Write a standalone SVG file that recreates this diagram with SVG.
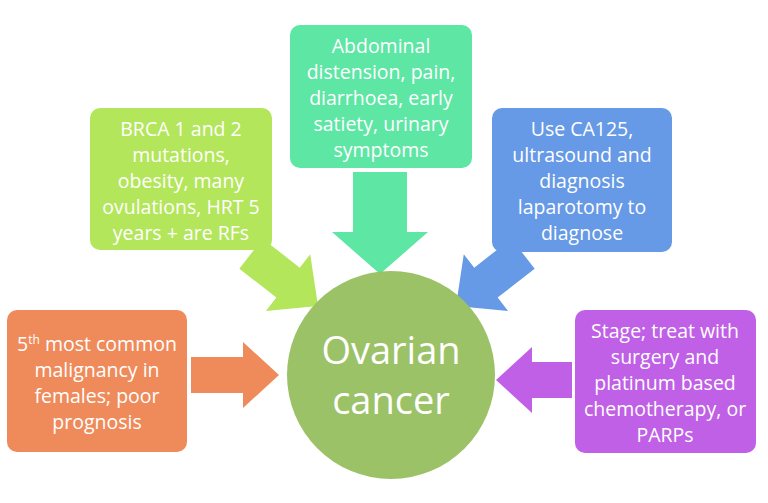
<svg xmlns="http://www.w3.org/2000/svg" width="768" height="503" viewBox="0 0 768 503">
<style>
.t{font-family:"Open Sans","Liberation Sans",sans-serif;font-size:19.5px;fill:#fff;text-anchor:middle}
.c{font-family:"Open Sans","Liberation Sans",sans-serif;font-size:38px;fill:#fff;text-anchor:middle}
</style>
<rect width="768" height="503" fill="#fff"/>
<g id="connectors">
<path transform="translate(279,375)" d="M-88,-18 L-36,-18 L-36,-33 L0,0 L-36,33 L-36,18 L-88,18 Z" fill="#EF8A5A"/>
<path transform="translate(496,380) rotate(180)" d="M-76,-18 L-36,-18 L-36,-33 L0,0 L-36,33 L-36,18 L-76,18 Z" fill="#C060E6"/>
<path transform="translate(380,274) rotate(90)" d="M-102,-27 L-42,-27 L-42,-48 L0,0 L-42,48 L-42,27 L-102,27 Z" fill="#5EE6A4"/>
<path transform="translate(318,306) rotate(38)" d="M-85,-19 L-38,-19 L-38,-36 L0,0 L-38,36 L-38,19 L-85,19 Z" fill="#B3E65A"/>
<path transform="translate(456,306) rotate(142)" d="M-85,-19 L-38,-19 L-38,-36 L0,0 L-38,36 L-38,19 L-85,19 Z" fill="#6699E6"/>
</g>
<g id="center"><circle cx="391" cy="375" r="104" fill="#9BC267"/>
<text class="c" x="391" y="364">Ovarian</text><text class="c" x="391" y="414">cancer</text></g>
<g id="n1"><rect x="7" y="310" width="180" height="142" rx="10" fill="#EF8A5A"/>
<text class="t" x="97" y="351">5<tspan font-size="12" dy="-7">th</tspan><tspan dy="7"> most common</tspan></text>
<text class="t" x="97" y="377">malignancy in</text><text class="t" x="97" y="403">females; poor</text><text class="t" x="97" y="429">prognosis</text></g>
<g id="n2"><rect x="90" y="108" width="182" height="142" rx="10" fill="#B3E65A"/>
<text class="t" x="181" y="136">BRCA 1 and 2</text><text class="t" x="181" y="162">mutations,</text><text class="t" x="181" y="188">obesity, many</text><text class="t" x="181" y="214">ovulations, HRT 5</text><text class="t" x="181" y="240">years + are RFs</text></g>
<g id="n3"><rect x="290" y="25" width="182" height="143" rx="10" fill="#5EE6A4"/>
<text class="t" x="381" y="53">Abdominal</text><text class="t" x="381" y="79">distension, pain,</text><text class="t" x="381" y="105">diarrhoea, early</text><text class="t" x="381" y="131">satiety, urinary</text><text class="t" x="381" y="157">symptoms</text></g>
<g id="n4"><rect x="492" y="108" width="180" height="144" rx="10" fill="#6699E6"/>
<text class="t" x="582" y="136">Use CA125,</text><text class="t" x="582" y="162">ultrasound and</text><text class="t" x="582" y="188">diagnosis</text><text class="t" x="582" y="214">laparotomy to</text><text class="t" x="582" y="240">diagnose</text></g>
<g id="n5"><rect x="575" y="310" width="181" height="143" rx="10" fill="#C060E6"/>
<text class="t" x="665" y="338">Stage; treat with</text><text class="t" x="665" y="364">surgery and</text><text class="t" x="665" y="390">platinum based</text><text class="t" x="665" y="416">chemotherapy, or</text><text class="t" x="665" y="442">PARPs</text></g>
</svg>
